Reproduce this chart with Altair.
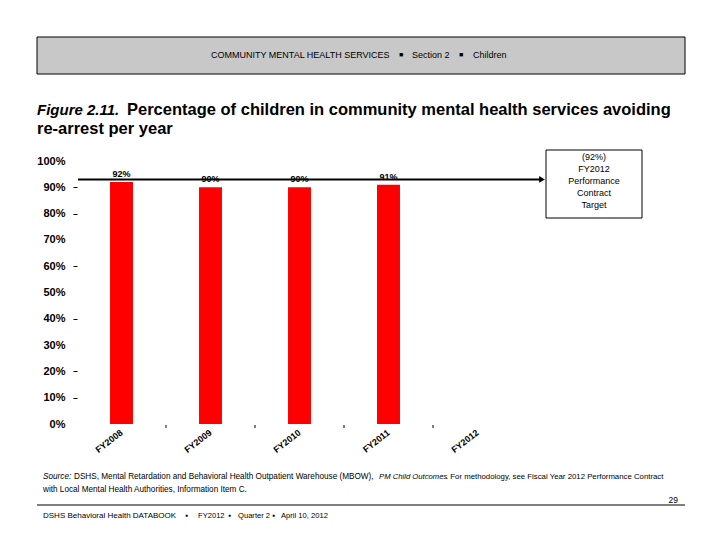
import altair as alt
import pandas as pd

# ---- data ----
years = ["FY2008", "FY2009", "FY2010", "FY2011", "FY2012"]
bar_years = ["FY2008", "FY2009", "FY2010", "FY2011"]
bar_pct = [92, 90, 90, 91]
bar_labels = ["92%", "90%", "90%", "91%"]
target_line_value = [93]
target_box_lines = ["(92%)", "FY2012", "Performance", "Contract", "Target"]
y_tick_values = [0, 10, 20, 30, 40, 50, 60, 70, 80, 90, 100]
dash_ticks = [10, 20, 40, 60, 80, 90]
separator_years = ["FY2009", "FY2010", "FY2011", "FY2012"]

header_parts = ["COMMUNITY MENTAL HEALTH SERVICES", "Section 2", "Children"]
title_italic = "Figure 2.11."
title_rest_1 = "Percentage of children in community mental health services avoiding"
title_rest_2 = "re-arrest per year"
source_it_1 = "Source:"
source_reg_1 = "DSHS, Mental Retardation and Behavioral Health Outpatient Warehouse (MBOW),"
source_it_2 = "PM Child Outcomes"
source_reg_2 = ". For methodology, see Fiscal Year 2012 Performance Contract"
source_line_2 = "with Local Mental Health Authorities, Information Item C."
page_number = "29"
footer_parts = ["DSHS Behavioral Health DATABOOK", "FY2012", "Quarter 2", "April 10, 2012"]

FONT = "Liberation Sans"
W, H = 445, 263

bars_df = pd.DataFrame({"year": bar_years, "pct": bar_pct, "label": bar_labels})
sep_df = pd.DataFrame({"year": separator_years})
target_df = pd.DataFrame({"t": target_line_value})
one = pd.DataFrame({"a": [0]})

xscale = alt.Scale(domain=years, paddingInner=0.742, paddingOuter=0.371)
yscale = alt.Scale(domain=[0, 100], nice=False)

tick_test = "indexof([" + ",".join(str(v) for v in dash_ticks) + "], datum.value) >= 0"
y_axis = alt.Axis(values=y_tick_values, labelExpr="datum.value + '%'",
                  labelFont=FONT, labelFontSize=11, labelFontWeight="bold",
                  labelColor="black", domain=False, grid=False,
                  tickSize=4, tickWidth=1, labelPadding=8,
                  tickColor={"condition": {"test": tick_test, "value": "black"},
                             "value": "transparent"})
x_axis = alt.Axis(labelAngle=322, labelAlign="right", labelBaseline="middle",
                  labelFont=FONT, labelFontSize=9, labelFontWeight="bold",
                  labelColor="black", ticks=False, domain=False, labelPadding=7)


def xenc():
    return alt.X("year:N", scale=xscale, sort=years, title=None, axis=x_axis)


bars = alt.Chart(bars_df).mark_bar(color="#ff0000").encode(
    x=xenc(),
    y=alt.Y("pct:Q", scale=yscale, title=None, axis=y_axis),
)

bar_text = alt.Chart(bars_df).mark_text(
    font=FONT, fontSize=9, fontWeight="bold", baseline="bottom", dy=-3, color="black"
).encode(
    x=xenc(),
    y=alt.Y("pct:Q", scale=yscale, title=None, axis=y_axis),
    text="label:N",
)

separators = alt.Chart(sep_df).mark_rule(color="black", strokeWidth=1, xOffset=-44.5).encode(
    x=xenc(),
    y=alt.value(H + 1), y2=alt.value(H + 4),
)

target_rule = alt.Chart(target_df).mark_rule(color="black", strokeWidth=2).encode(
    x=alt.value(1), x2=alt.value(464),
    y=alt.Y("t:Q", scale=yscale, title=None, axis=y_axis),
)
arrow = alt.Chart(target_df).mark_point(
    shape="triangle-right", filled=True, color="black", size=45, opacity=1
).encode(
    x=alt.value(465),
    y=alt.Y("t:Q", scale=yscale, title=None, axis=y_axis),
)

box = alt.Chart(one).mark_rect(fill="white", stroke="black", strokeWidth=1).encode(
    x=alt.value(469), x2=alt.value(565), y=alt.value(-11), y2=alt.value(57)
)
box_text = alt.Chart(one).mark_text(
    font=FONT, fontSize=9, color="black", lineHeight=12, baseline="top", align="center"
).encode(
    x=alt.value(517), y=alt.value(-8), text=alt.value(target_box_lines)
)


def txt(s, x, y, size, weight="normal", style="normal", align="left"):
    return alt.Chart(one).mark_text(
        font=FONT, fontSize=size, fontWeight=weight, fontStyle=style,
        align=align, baseline="middle", color="black"
    ).encode(x=alt.value(x), y=alt.value(y), text=alt.value(s))


header_rect = alt.Chart(one).mark_rect(fill="#c8c8c8", stroke="black", strokeWidth=1).encode(
    x=alt.value(-40), x2=alt.value(608), y=alt.value(-124), y2=alt.value(-87)
)
HY = -106
header = [
    txt(header_parts[0], 134, HY, 9),
    txt("\u25A0", 324, HY, 7, align="center"),
    txt(header_parts[1], 335, HY, 9),
    txt("\u25A0", 384, HY, 7, align="center"),
    txt(header_parts[2], 396, HY, 9),
]

titles = [
    txt(title_italic, -40, -51, 15, weight="bold", style="italic"),
    txt(title_rest_1, 50, -51, 16.5, weight="bold"),
    txt(title_rest_2, -40, -32, 16.5, weight="bold"),
]

SF = 8.2
source = [
    txt(source_it_1, -34, 316, SF, style="italic"),
    txt(source_reg_1, -3, 316, SF),
    txt(source_it_2, 302, 316, 7.7, style="italic"),
    txt(source_reg_2, 369, 316, 7.8),
    txt(source_line_2, -34, 329, SF),
]

foot_rule = alt.Chart(one).mark_rule(color="black", strokeWidth=1).encode(
    x=alt.value(-40), x2=alt.value(608), y=alt.value(344))
page_no = txt(page_number, 601, 339, 8.5, align="right")
FY_ = 355
FS = 7.6
footer = [
    txt(footer_parts[0], -34, FY_, 8),
    txt("\u25AA", 110, FY_, 8, align="center"),
    txt(footer_parts[1], 121, FY_, FS),
    txt("\u25AA", 153, FY_, 8, align="center"),
    txt(footer_parts[2], 161, FY_, FS),
    txt("\u25AA", 197, FY_, 8, align="center"),
    txt(footer_parts[3], 204, FY_, FS),
]

chart = alt.layer(
    header_rect, *header, *titles,
    bars, bar_text, separators, target_rule, arrow, box, box_text,
    *source, foot_rule, page_no, *footer,
).properties(
    width=W, height=H,
    autosize=alt.AutoSizeParams(type="none"),
    padding={"left": 69, "top": 153, "right": 190, "bottom": 108},
    background="white",
).configure_view(stroke=None)

chart.save("out.html", embed_options={"renderer": "svg", "actions": False})
